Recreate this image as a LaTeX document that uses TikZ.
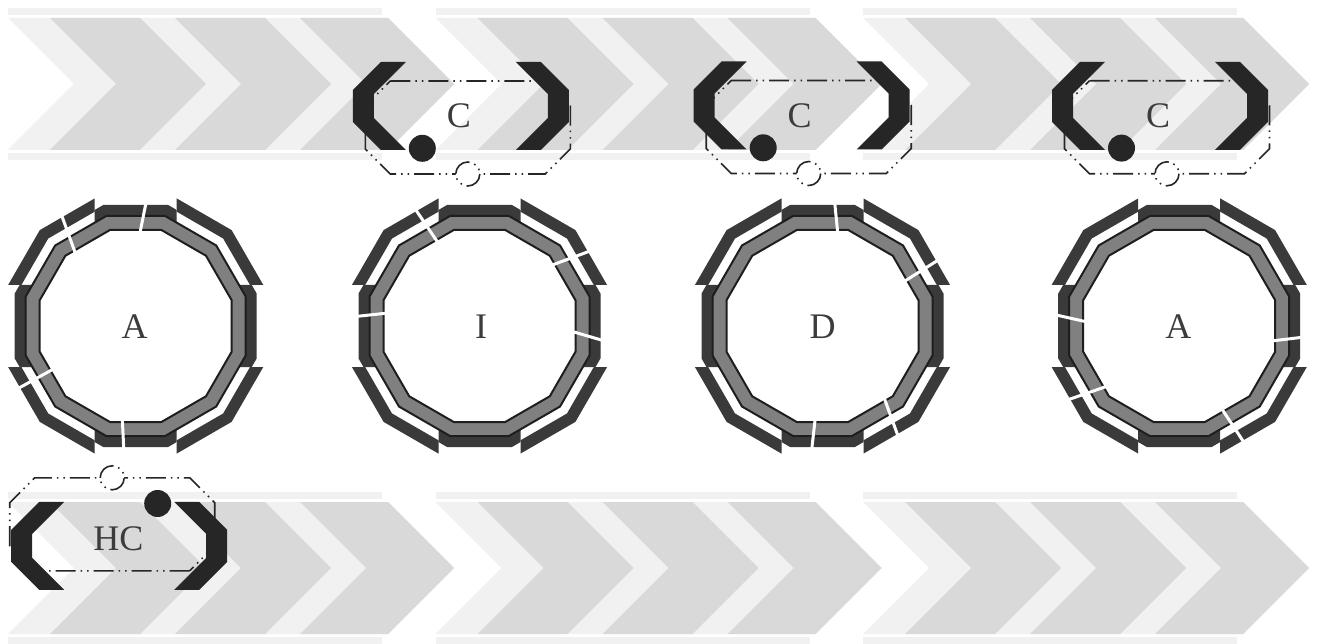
\documentclass[tikz,border=0pt]{standalone}
\usepackage{fontspec}
\setmainfont{Liberation Serif}
\definecolor{chlight}{HTML}{F1F1F1}
\definecolor{chdark}{HTML}{D9D9D9}
\definecolor{ringdark}{HTML}{3A3A3A}
\definecolor{ringgray}{HTML}{808080}
\definecolor{ringline}{HTML}{1E1E1E}
\definecolor{ink}{HTML}{262626}
\definecolor{txt}{HTML}{3C3C3C}
\tikzset{
  ddot/.style={draw=ink,line width=1.6pt,dash pattern=on 20pt off 5pt on 1.5pt off 5pt on 1.5pt off 5pt},
  lbl/.style={text=txt,font=\fontsize{36}{40}\selectfont,inner sep=0pt},
  cutline/.style={draw=white,line width=3pt},
}
\newcommand\dodec[1]{(15:#1) -- (45:#1) -- (75:#1) -- (105:#1) -- (135:#1) -- (165:#1) -- (195:#1) -- (225:#1) -- (255:#1) -- (285:#1) -- (315:#1) -- (345:#1) -- cycle}
\newcommand\chevband[2]{%
  \fill[chlight] (#1,#2-10) rectangle (#1+374,#2-3);
  \fill[chlight] (#1,#2+135) rectangle (#1+374,#2+142);
  \fill[chlight] (#1,#2) -- (#1+380,#2) -- (#1+446,#2+66) -- (#1+380,#2+132) -- (#1,#2+132) -- (#1+66,#2+66) -- cycle;
  \foreach \s/\w in {42/90,167/90,292/88}{
    \fill[chdark] (#1+\s,#2) -- (#1+\s+\w,#2) -- (#1+\s+\w+66,#2+66) -- (#1+\s+\w,#2+132) -- (#1+\s,#2+132) -- (#1+\s+66,#2+66) -- cycle;}
}
\newcommand\ringshape[3]{%
  \begin{scope}[shift={(#1,#2)},yscale=-1]
    \begin{scope}
      \clip (-41,-200) rectangle (41,200) (-200,-41) rectangle (200,41);
      \fill[ringdark,even odd rule] \dodec{125.27} \dodec{108.7};
    \end{scope}
    \begin{scope}
      \clip (41,41) rectangle (200,200) (-41,41) rectangle (-200,200) (-41,-41) rectangle (-200,-200) (41,-41) rectangle (200,-200);
      \fill[ringdark,even odd rule] \dodec{135.62} \dodec{123.72};
    \end{scope}
    \filldraw[fill=ringgray,draw=ringline,line width=2pt,even odd rule] \dodec{113.88} \dodec{99.39};
    \foreach \a/\b in {#3}{\draw[cutline] (\a:93) -- (\b:134);}
  \end{scope}
}
\newcommand\cboxshape[3]{%
  \begin{scope}[shift={(#1,#2)},rotate=#3]
    \draw[ddot] (-70.5,-25) -- (84.5,-25) -- (109.5,0) -- (109.5,43) -- (84.5,68) -- (-70.5,68) -- (-95.5,43) -- (-95.5,0) -- cycle;
    \fill[ink] (-80,-44) -- (-55,-44) -- (-87,-12) -- (-87,12) -- (-55,44) -- (-80,44) -- (-108,16) -- (-108,-16) -- cycle;
    \fill[ink] (80,-44) -- (55,-44) -- (87,-12) -- (87,12) -- (55,44) -- (80,44) -- (108,16) -- (108,-16) -- cycle;
    \fill[ink] (-38.5,42.3) circle[radius=13.5];
    \filldraw[fill=white,ddot] (7,68) circle[radius=12];
  \end{scope}
}
\begin{document}
\begin{tikzpicture}[x=1pt,y=-1pt]
\fill[white] (0,0) rectangle (1317,644);
\useasboundingbox (0,0) rectangle (1317,644);
% chevron bands
\chevband{8}{18}
\chevband{435.5}{18}
\chevband{863}{18}
\chevband{8}{502}
\chevband{435.5}{502}
\chevband{863}{502}
% boxes
\cboxshape{460.8}{106}{0}
\cboxshape{801.7}{105.5}{0}
\cboxshape{1160}{105.8}{0}
\cboxshape{119.2}{545.8}{180}
\node[lbl] (c1) at (458.8,116) {C};
\node[lbl] (c2) at (799.7,116) {C};
\node[lbl] (c3) at (1158,116) {C};
\node[lbl] (hc) at (118.3,539) {HC};
% rings
\ringshape{135.7}{326}{87.4/84.7,130/123.7,207.6/208,261.7/265.1}
\ringshape{479.5}{326}{116.5/118.8,40.4/34.1,-3.4/-7.4,172/176.4}
\ringshape{822.5}{326}{80.5/85.2,28.6/29.7,-49/-55.6,265.5/264.9}
\ringshape{1179.2}{326}{177.4/174.3,-9.3/-4.3,220.1/213.5,-62.8/-60.9}
\node[lbl] (r1) at (134.5,327) {A};
\node[lbl] (r2) at (481,327) {I};
\node[lbl] (r3) at (822.7,327) {D};
\node[lbl] (r4) at (1178.3,327) {A};
\end{tikzpicture}
\end{document}
